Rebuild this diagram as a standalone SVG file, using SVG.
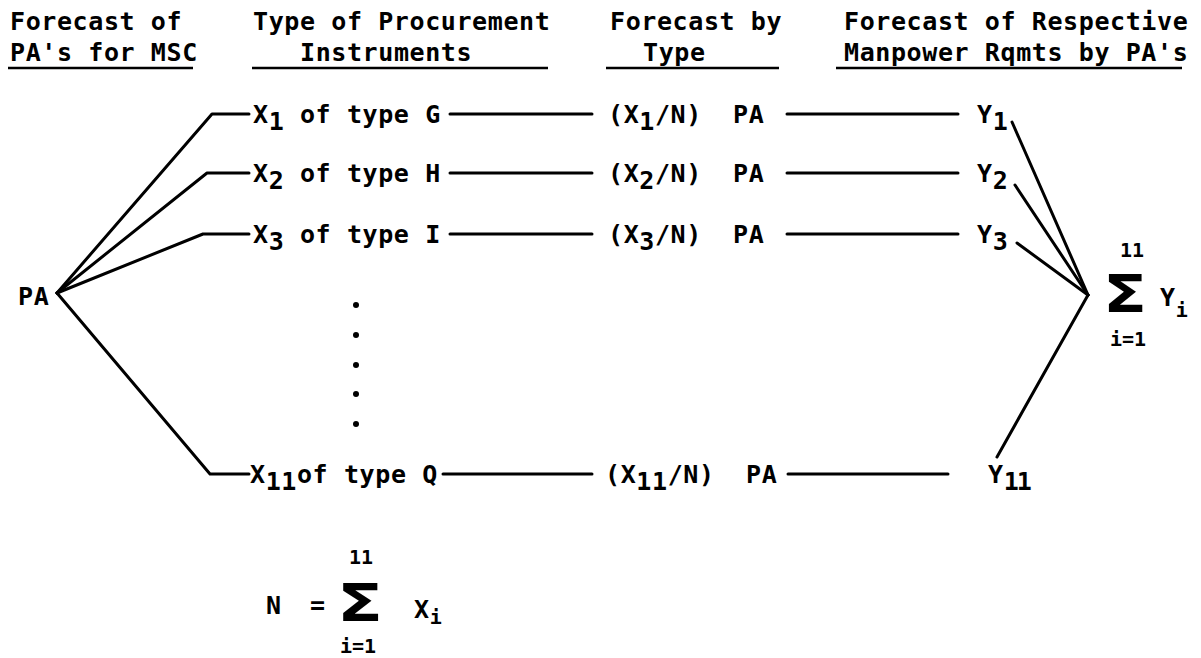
<svg xmlns="http://www.w3.org/2000/svg" width="1201" height="658" viewBox="0 0 1201 658">
<style>
text{font-family:"DejaVu Sans Mono","Liberation Mono",monospace;font-weight:bold;font-size:25px;letter-spacing:0.6px;fill:#000}
.sm{font-size:20px;letter-spacing:0}
.sig{font-family:"DejaVu Sans","Liberation Sans",sans-serif;font-size:52px;letter-spacing:0}
.ln{stroke:#000;stroke-width:3;fill:none;stroke-linecap:round;stroke-linejoin:round}
.ul{stroke:#000;stroke-width:2.5}
</style>
<rect width="1201" height="658" fill="#fff"/>
<g id="headers">
<text x="10" y="30">Forecast of</text>
<text x="10" y="61">PA's for MSC</text>
<line class="ul" x1="8" y1="68" x2="193" y2="68"/>
<text x="253" y="30">Type of Procurement</text>
<text x="300" y="61">Instruments</text>
<line class="ul" x1="252" y1="68" x2="548" y2="68"/>
<text x="610" y="30">Forecast by</text>
<text x="643" y="61">Type</text>
<line class="ul" x1="606" y1="68" x2="779" y2="68"/>
<text x="844" y="30">Forecast of Respective</text>
<text x="844" y="61">Manpower Rqmts by PA's</text>
<line class="ul" x1="836" y1="68" x2="1182" y2="68"/>
</g>
<g id="node-pa"><text x="18" y="305">PA</text></g>
<g id="node-x1"><text x="253" y="123">X<tspan dy="7">1</tspan><tspan dy="-7"> of type G</tspan></text></g>
<g id="node-x2"><text x="253" y="182">X<tspan dy="7">2</tspan><tspan dy="-7"> of type H</tspan></text></g>
<g id="node-x3"><text x="253" y="243">X<tspan dy="7">3</tspan><tspan dy="-7"> of type I</tspan></text></g>
<g id="node-x11"><text x="250" y="483">X<tspan dy="7">11</tspan><tspan dy="-7">of type Q</tspan></text></g>
<g id="node-f1"><text x="608" y="123">(X<tspan dy="7">1</tspan><tspan dy="-7">/N)</tspan><tspan x="733">PA</tspan></text></g>
<g id="node-f2"><text x="608" y="182">(X<tspan dy="7">2</tspan><tspan dy="-7">/N)</tspan><tspan x="733">PA</tspan></text></g>
<g id="node-f3"><text x="608" y="243">(X<tspan dy="7">3</tspan><tspan dy="-7">/N)</tspan><tspan x="733">PA</tspan></text></g>
<g id="node-f11"><text x="605" y="483">(X<tspan dy="7">11</tspan><tspan dy="-7">/N)</tspan><tspan x="746">PA</tspan></text></g>
<g id="node-y1"><text x="977" y="123">Y<tspan dy="7">1</tspan></text></g>
<g id="node-y2"><text x="977" y="182">Y<tspan dy="7">2</tspan></text></g>
<g id="node-y3"><text x="977" y="243">Y<tspan dy="7">3</tspan></text></g>
<g id="node-y11"><text x="988" y="483">Y<tspan dy="7" letter-spacing="-2">11</tspan></text></g>
<g id="ellipsis">
<circle cx="356" cy="305" r="3"/>
<circle cx="356" cy="335" r="3"/>
<circle cx="356" cy="365" r="3"/>
<circle cx="356" cy="394" r="3"/>
<circle cx="356" cy="424" r="3"/>
</g>
<g id="node-sumy">
<text class="sm" x="1120" y="257">11</text>
<text class="sig" x="1103" y="312" textLength="44" lengthAdjust="spacingAndGlyphs">Σ</text>
<text class="sm" x="1110" y="346">i=1</text>
<text x="1160" y="306">Y<tspan class="sm" dy="11">i</tspan></text>
</g>
<g id="node-n">
<text x="266" y="614">N</text>
<text x="310" y="614">=</text>
<text class="sm" x="349" y="564">11</text>
<text class="sig" x="337" y="621" textLength="46" lengthAdjust="spacingAndGlyphs">Σ</text>
<text class="sm" x="340" y="653">i=1</text>
<text x="414" y="618">X<tspan class="sm" dy="6">i</tspan></text>
</g>
<g id="connectors">
<polyline class="ln" points="249,114 212,114 57,293"/>
<polyline class="ln" points="249,173 207,173 57,293"/>
<polyline class="ln" points="249,234 203,234 57,293"/>
<polyline class="ln" points="249,474 210,474 57,293"/>
<line class="ln" x1="450" y1="114" x2="592" y2="114"/>
<line class="ln" x1="450" y1="173" x2="592" y2="173"/>
<line class="ln" x1="450" y1="234" x2="592" y2="234"/>
<line class="ln" x1="443" y1="474" x2="592" y2="474"/>
<line class="ln" x1="787" y1="114" x2="958" y2="114"/>
<line class="ln" x1="787" y1="173" x2="958" y2="173"/>
<line class="ln" x1="787" y1="234" x2="958" y2="234"/>
<line class="ln" x1="788" y1="474" x2="948" y2="474"/>
<line class="ln" x1="1012" y1="122" x2="1088" y2="295"/>
<line class="ln" x1="1015" y1="185" x2="1088" y2="295"/>
<line class="ln" x1="1017" y1="243" x2="1088" y2="295"/>
<line class="ln" x1="997" y1="457" x2="1088" y2="295"/>
</g>
</svg>
